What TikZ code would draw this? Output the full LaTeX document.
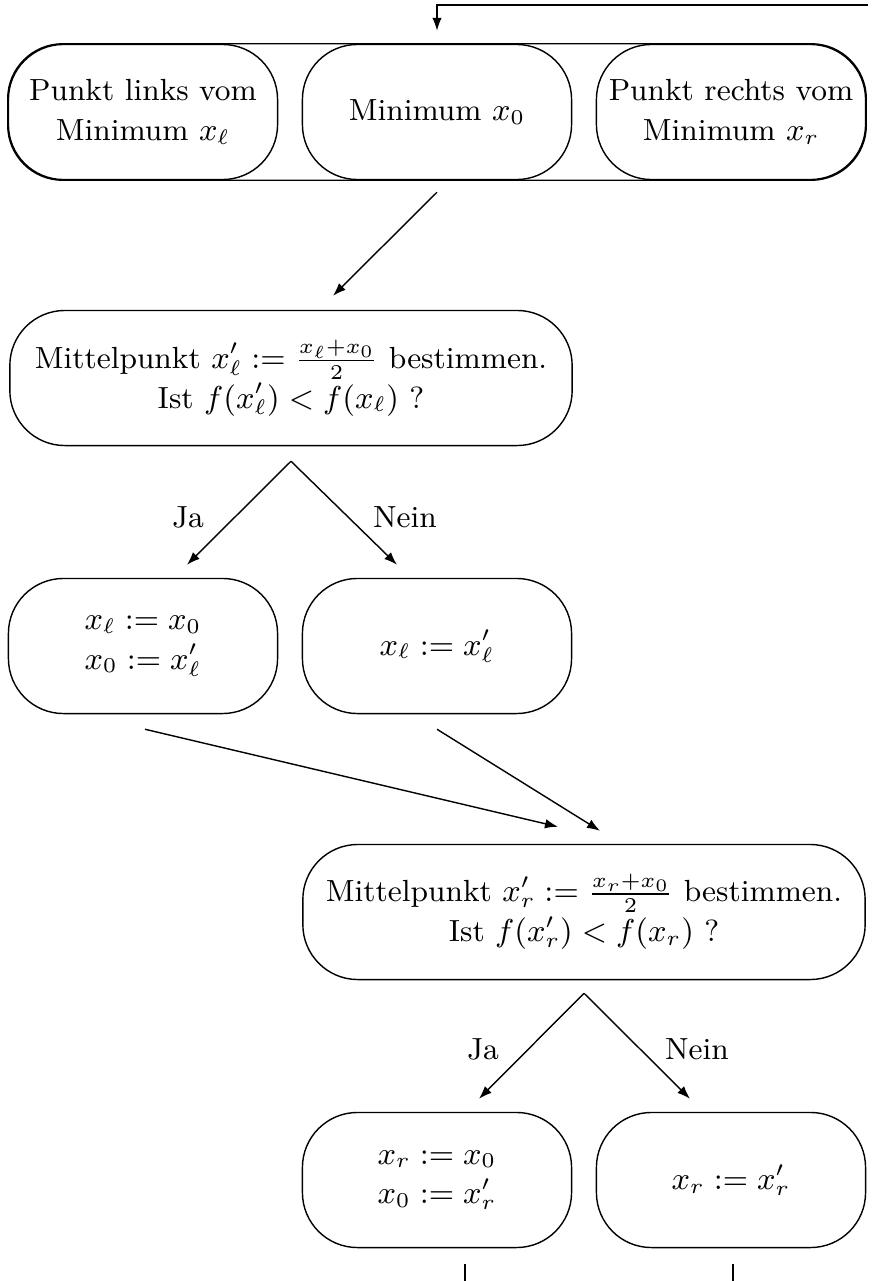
\documentclass[tikz,border=0pt]{standalone}
\usetikzlibrary{calc,arrows.meta}
\begin{document}
\begin{tikzpicture}[x=0.01cm,y=-0.01cm,
  font=\fontsize{8.7}{11.3}\selectfont,
  box/.style={draw, rounded corners=0.55cm, minimum width=2.69cm, minimum height=1.35cm, align=center, inner sep=0pt},
  wide/.style={box, minimum width=5.62cm},
  arr/.style={-{Latex[length=1.3mm,width=0.95mm]}},
  lbl/.style={}]
\useasboundingbox (0,0) rectangle (880,1281);
% top row
\node[box] (tl) at (143,112) {Punkt links vom\\Minimum $x_\ell$};
\node[box] (tm) at (437,112) {Minimum $x_0$};
\node[box] (tr) at (731,112) {Punkt rechts vom\\Minimum $x_r$};
\draw[rounded corners=0.55cm] (tl.north west) rectangle (tr.south east);
% left midpoint
\node[wide] (ml) at (291,378) {Mittelpunkt $x'_\ell := \frac{x_\ell+x_0}{2}$ bestimmen.\\Ist $f(x'_\ell) < f(x_\ell)$ ?};
\node[box] (jal) at (143,646) {$x_\ell := x_0$\\$x_0 := x'_\ell$};
\node[box] (nel) at (437,646) {$x_\ell := x'_\ell$};
% right midpoint
\node[wide] (mr) at (584,912) {Mittelpunkt $x'_r := \frac{x_r+x_0}{2}$ bestimmen.\\Ist $f(x'_r) < f(x_r)$ ?};
\node[box] (jar) at (437,1180) {$x_r := x_0$\\$x_0 := x'_r$};
\node[box] (ner) at (731,1180) {$x_r := x'_r$};
% coordinates
\coordinate (in0) at (868,5);
\coordinate (in1) at ($(tm.north)+(0,-13)$);
\coordinate (a1s) at ($(tm.south)+(0,12)$);
\coordinate (a1e) at ($(ml.north)+(42,-14)$);
\coordinate (a2s) at ($(ml.south)+(0,15)$);
\coordinate (a2e) at ($(jal.north)+(44,-13)$);
\coordinate (a3e) at ($(nel.north)+(-40,-13)$);
\coordinate (a4s) at ($(jal.south)+(2,15)$);
\coordinate (a4e) at ($(mr.north)+(-26,-17)$);
\coordinate (a5s) at ($(nel.south)+(0,15)$);
\coordinate (a5e) at ($(mr.north)+(16,-13)$);
\coordinate (a6s) at ($(mr.south)+(0,13)$);
\coordinate (a6e) at ($(jar.north)+(42,-13)$);
\coordinate (a7e) at ($(ner.north)+(-41,-13)$);
\coordinate (o1s) at ($(jar.south)+(28,16)$);
\coordinate (o1e) at (465,1281);
\coordinate (o2s) at ($(ner.south)+(2,16)$);
\coordinate (o2e) at (733,1281);
% connectors
\draw[arr] (in0) -| (in1);
\draw[arr] (a1s) -- (a1e);
\draw[arr] (a2s) -- node[lbl, midway, xshift=-0.51cm, yshift=-0.04cm] {Ja} (a2e);
\draw[arr] (a2s) -- node[lbl, midway, xshift=0.61cm, yshift=-0.04cm] {Nein} (a3e);
\draw[arr] (a4s) -- (a4e);
\draw[arr] (a5s) -- (a5e);
\draw[arr] (a6s) -- node[lbl, midway, xshift=-0.485cm, yshift=-0.035cm] {Ja} (a6e);
\draw[arr] (a6s) -- node[lbl, midway, xshift=0.6cm, yshift=-0.035cm] {Nein} (a7e);
\draw (o1s) -- (o1e);
\draw (o2s) -- (o2e);
\end{tikzpicture}
\end{document}
